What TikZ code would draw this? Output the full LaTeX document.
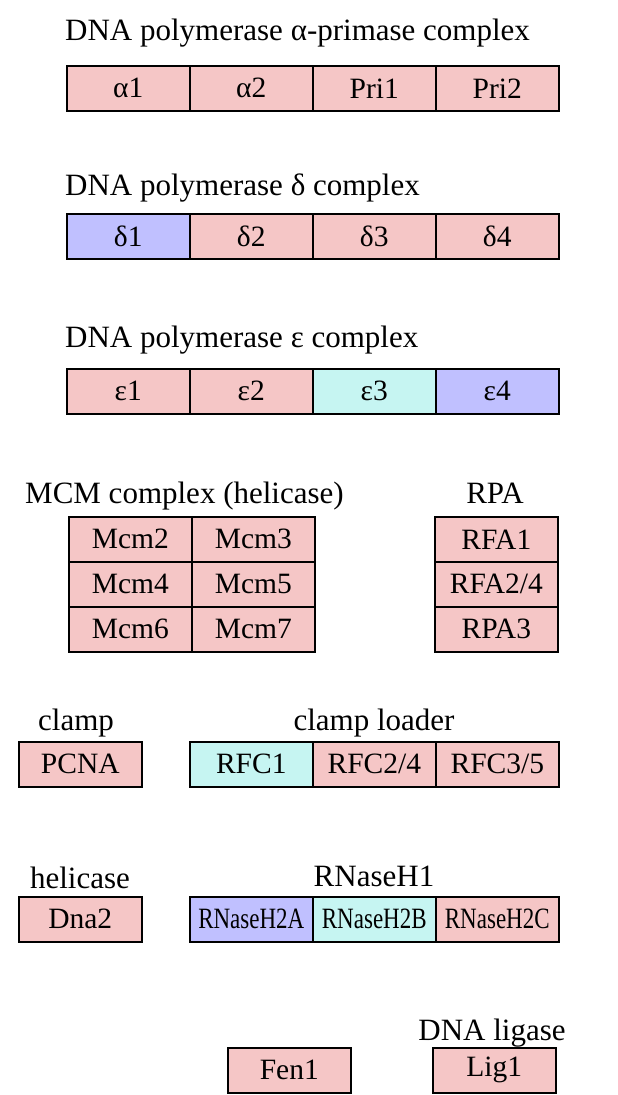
\documentclass[tikz,border=0pt]{standalone}
\usepackage{fontspec}
\setmainfont{Liberation Serif}
\definecolor{pinkc}{RGB}{245,198,198}
\definecolor{bluec}{RGB}{192,192,255}
\definecolor{cyanc}{RGB}{198,245,242}
\tikzset{
  cell/.style={draw=black, line width=1.6pt, anchor=north west, inner sep=0pt,
    minimum width=123pt, minimum height=45pt, font=\fontsize{29.5}{29.5}\selectfont},
  pk/.style={cell, fill=pinkc},
  bl/.style={cell, fill=bluec},
  cy/.style={cell, fill=cyanc},
  ttl/.style={inner sep=0pt, anchor=base west, font=\fontsize{31}{31}\selectfont},
  ttlc/.style={inner sep=0pt, anchor=base, font=\fontsize{31}{31}\selectfont},
}
\newcommand{\sq}[1]{\scalebox{0.78}[1]{#1}}
\begin{document}
\begin{tikzpicture}[x=1pt,y=-1pt]
\useasboundingbox (0,0) rectangle (618,1095);
% row 1
\node[ttl] (t1) at (65,40) {DNA polymerase α-primase complex};
\node[pk] (a1) at (66,65) {α1};
\node[pk] (a2) at (189,65) {α2};
\node[pk] (p1) at (312,65) {Pri1};
\node[pk] (p2) at (435,65) {Pri2};
% row 2
\node[ttl] (t2) at (65,195) {DNA polymerase δ complex};
\node[bl] (d1) at (66,213) {δ1};
\node[pk] (d2) at (189,213) {δ2};
\node[pk] (d3) at (312,213) {δ3};
\node[pk] (d4) at (435,213) {δ4};
% row 3
\node[ttl] (t3) at (65,347) {DNA polymerase ε complex};
\node[pk] (e1) at (66,368) {ε1};
\node[pk] (e2) at (189,368) {ε2};
\node[cy] (e3) at (312,368) {ε3};
\node[bl] (e4) at (435,368) {ε4};
% MCM
\node[ttl] (tm) at (25,503) {MCM complex (helicase)};
\node[pk] (m2) at (68,516) {Mcm2};
\node[pk] (m3) at (191,516) {Mcm3};
\node[pk] (m4) at (68,561) {Mcm4};
\node[pk] (m5) at (191,561) {Mcm5};
\node[pk] (m6) at (68,606) {Mcm6};
\node[pk] (m7) at (191,606) {Mcm7};
% RPA
\node[ttlc] (tr) at (495,503) {RPA};
\node[pk] (r1) at (434,516) {RFA1};
\node[pk] (r2) at (434,561) {RFA2/4};
\node[pk] (r3) at (434,606) {RPA3};
% clamp
\node[ttlc] (tc) at (76,730) {clamp};
\node[pk] (pcna) at (18,741) {PCNA};
\node[ttlc] (tl) at (374,730) {clamp loader};
\node[cy] (rfc1) at (189,741) {RFC1};
\node[pk] (rfc2) at (312,741) {RFC2/4};
\node[pk] (rfc3) at (435,741) {RFC3/5};
% helicase
\node[ttlc] (th) at (80,888) {helicase};
\node[pk] (dna2) at (18,896) {Dna2};
\node[ttlc] (tn) at (374,886) {RNaseH1};
\node[bl] (h2a) at (189,896) {\sq{RNaseH2A}};
\node[cy] (h2b) at (312,896) {\sq{RNaseH2B}};
\node[pk] (h2c) at (435,896) {\sq{RNaseH2C}};
% bottom
\node[pk] (fen) at (227,1047) {Fen1};
\node[ttlc] (tg) at (492,1040) {DNA ligase};
\node[pk] (lig) at (432,1047) {Lig1};
\end{tikzpicture}
\end{document}
